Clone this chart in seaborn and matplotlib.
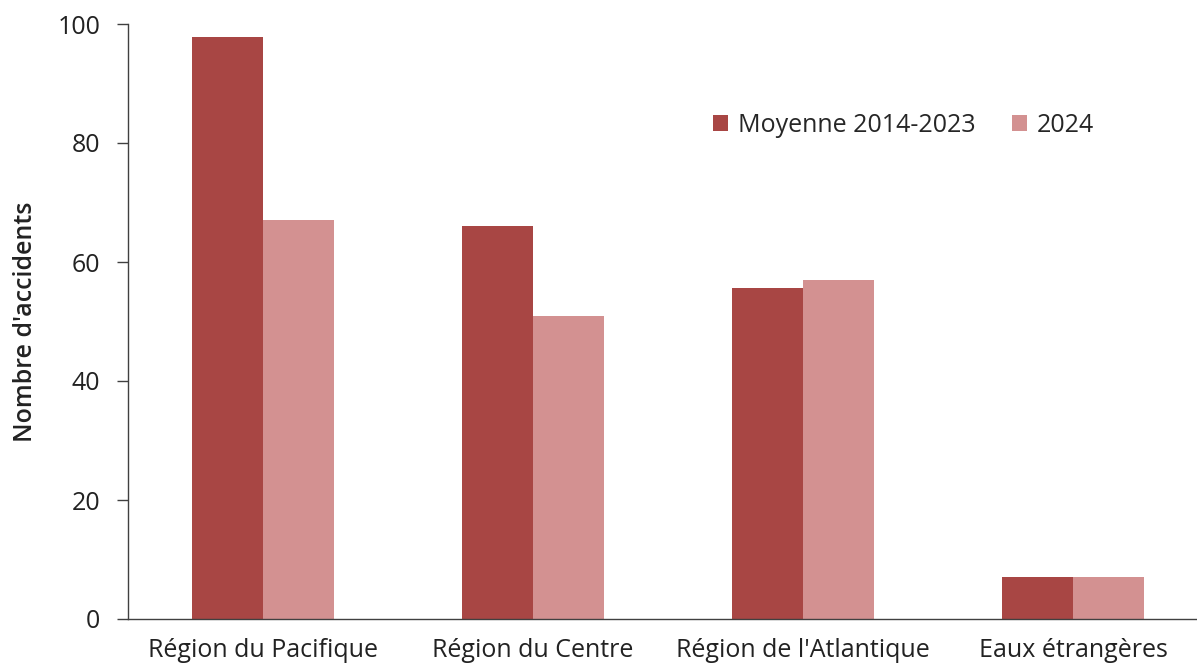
import matplotlib
matplotlib.use("Agg")
import matplotlib.pyplot as plt
import seaborn as sns
import pandas as pd

categories = ["Région du Pacifique", "Région du Centre", "Région de l'Atlantique", "Eaux étrangères"]
moyenne = [97.8, 66.0, 55.7, 7.0]
annee_2024 = [67, 51, 57, 7]
series_names = ["Moyenne 2014-2023", "2024"]
colors = ["#A84644", "#D39191"]
y_ticks = [0, 20, 40, 60, 80, 100]

df = pd.DataFrame({
    "Région": categories * 2,
    "Série": [series_names[0]] * len(categories) + [series_names[1]] * len(categories),
    "Valeur": moyenne + annee_2024,
})

sns.set_theme(style="white")
plt.rcParams["font.family"] = ["Open Sans", "DejaVu Sans"]

fig = plt.figure(figsize=(11.97, 6.69), dpi=100)
W, H = 1197, 669
x0, x1 = 128, 1208
y0, y1 = 619, 24
ax = fig.add_axes([x0 / W, (H - y0) / H, (x1 - x0) / W, (y0 - y1) / H])

sns.barplot(data=df, x="Région", y="Valeur", hue="Série", palette=colors,
            width=0.526, gap=0, saturation=1, ax=ax, edgecolor="none", linewidth=0)

ax.set_xlim(-0.5, len(categories) - 0.5)
ax.set_ylim(0, 100)
ax.set_yticks(y_ticks)
ax.set_yticklabels([str(t) for t in y_ticks], fontsize=18, color="#222222")
ax.set_xticks(range(len(categories)))
ax.set_xticklabels(categories, fontsize=18, color="#222222")
ax.set_xticks([i - 0.5 for i in range(len(categories) + 1)], minor=True)
ax.tick_params(axis="x", which="major", length=0, pad=14)
ax.tick_params(axis="x", which="minor", length=8, width=1, color="#404040", direction="out")
ax.tick_params(axis="y", length=8, width=1, color="#404040", direction="out", pad=12, left=True)
ax.set_xlabel("")
ax.set_ylabel("Nombre d'accidents", fontsize=18, fontweight="semibold", color="#222222", labelpad=14)

for s in ["top", "right"]:
    ax.spines[s].set_visible(False)
for s in ["left", "bottom"]:
    ax.spines[s].set_color("#404040")
    ax.spines[s].set_linewidth(1)

leg = ax.legend(loc="upper left", bbox_to_anchor=((703 - x0) / (x1 - x0), (y0 - 103) / (y0 - y1)),
                ncol=2, frameon=False, fontsize=18, handlelength=0.6, handleheight=0.6,
                handletextpad=0.4, columnspacing=1.45, borderaxespad=0)

fig.savefig("out.png", dpi=100)
